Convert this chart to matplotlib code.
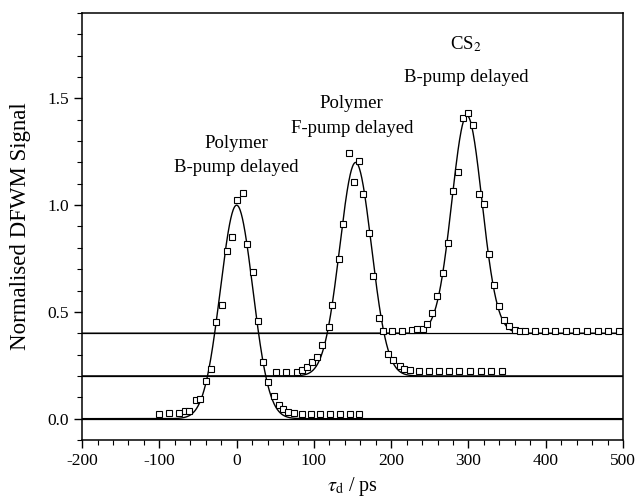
import numpy as np
import matplotlib
matplotlib.use("Agg")
import matplotlib.pyplot as plt
from matplotlib.ticker import MultipleLocator

# measured points (delay in ps, normalised signal)
b_pump_x = [-100, -87, -74, -67, -61, -52, -47, -40, -33, -27, -19, -12, -6, 1, 8, 14,
            21, 28, 34, 41, 48, 55, 60, 66, 74, 84, 96, 108, 121, 134, 147, 159]
b_pump_y = [0.022, 0.027, 0.027, 0.034, 0.034, 0.086, 0.092, 0.175, 0.233, 0.452, 0.531,
            0.785, 0.853, 1.022, 1.055, 0.817, 0.689, 0.459, 0.263, 0.174, 0.108, 0.066,
            0.046, 0.03, 0.025, 0.022, 0.02, 0.02, 0.02, 0.02, 0.02, 0.02]

f_pump_x = [51, 64, 78, 85, 91, 98, 104, 111, 119, 124, 132, 138, 146, 152, 158, 164, 171,
            177, 184, 196, 203, 211, 217, 224, 236, 249, 262, 275, 288, 302, 316, 329, 343]
f_pump_y = [0.217, 0.217, 0.22, 0.226, 0.243, 0.264, 0.288, 0.347, 0.429, 0.531, 0.746,
            0.911, 1.244, 1.109, 1.208, 1.052, 0.869, 0.668, 0.473, 0.305, 0.277, 0.246,
            0.233, 0.227, 0.225, 0.222, 0.225, 0.225, 0.222, 0.225, 0.225, 0.222, 0.222]

cs2_x = [190, 201, 214, 227, 233, 241, 246, 253, 259, 267, 273, 280, 287, 293, 300, 306,
         313, 320, 326, 333, 339, 346, 352, 360, 367, 373, 386, 399, 412, 426, 439, 453,
         467, 481, 495]
cs2_y = [0.41, 0.41, 0.41, 0.415, 0.42, 0.42, 0.444, 0.493, 0.574, 0.684, 0.825, 1.067,
         1.153, 1.407, 1.432, 1.377, 1.052, 1.005, 0.77, 0.624, 0.527, 0.46, 0.435, 0.415,
         0.412, 0.412, 0.41, 0.41, 0.41, 0.41, 0.41, 0.41, 0.41, 0.41, 0.41]

# gaussian fit parameters for B-pump polymer, F-pump polymer, CS2
fit_centres = [0, 154, 298]
fit_sigmas = [21, 20.5, 19.5]
fit_heights = [1.0, 1.0, 1.02]
fit_offsets = [0.0, 0.2, 0.4]

# labels above each peak
label_lines = [["Polymer", "B-pump delayed"],
               ["Polymer", "F-pump delayed"],
               ["CS$_2$", "B-pump delayed"]]
label_x = [0, 149, 297]
label_y = [[1.288, 1.178], [1.478, 1.36], [1.755, 1.596]]


def main():
    plt.rcParams['font.family'] = ['Liberation Serif', 'DejaVu Serif']
    plt.rcParams['mathtext.fontset'] = 'stix'
    plt.rcParams['axes.unicode_minus'] = False

    fig = plt.figure(figsize=(6.36, 5.0), dpi=100)
    ax = fig.add_axes([0.129, 0.12, 0.8506, 0.854])

    for y0 in fit_offsets:
        ax.axhline(y0, color='black', linewidth=0.9)

    t = np.linspace(-200, 500, 1401)
    for c, s, h, y0 in zip(fit_centres, fit_sigmas, fit_heights, fit_offsets):
        ax.plot(t, y0 + h * np.exp(-(t - c) ** 2 / (2 * s ** 2)), color='black', linewidth=1.0)

    for xs, ys in [(b_pump_x, b_pump_y), (f_pump_x, f_pump_y), (cs2_x, cs2_y)]:
        ax.plot(xs, ys, linestyle='none', marker='s', markersize=4, markerfacecolor='white',
                markeredgecolor='black', markeredgewidth=0.8)

    for lines, x, ys in zip(label_lines, label_x, label_y):
        for text, y in zip(lines, ys):
            ax.text(x, y, text, ha='center', va='center', fontsize=13.5)

    ax.set_xlim(-200, 500)
    ax.set_ylim(-0.1, 1.9)
    ax.xaxis.set_major_locator(MultipleLocator(100))
    ax.xaxis.set_minor_locator(MultipleLocator(20))
    ax.yaxis.set_major_locator(MultipleLocator(0.5))
    ax.yaxis.set_minor_locator(MultipleLocator(0.1))
    ax.tick_params(which='major', length=6, width=1, labelsize=12.5)
    ax.tick_params(which='minor', length=3.5, width=0.8)
    ax.tick_params(top=False, right=False)
    for spine in ax.spines.values():
        spine.set_linewidth(1.1)

    ax.set_xlabel(r'$\tau_{\rm d}$ / ps', fontsize=14.5, labelpad=4)
    ax.set_ylabel('Normalised DFWM Signal', fontsize=16.5, labelpad=12)

    fig.savefig('out.png', dpi=100)


if __name__ == '__main__':
    main()
